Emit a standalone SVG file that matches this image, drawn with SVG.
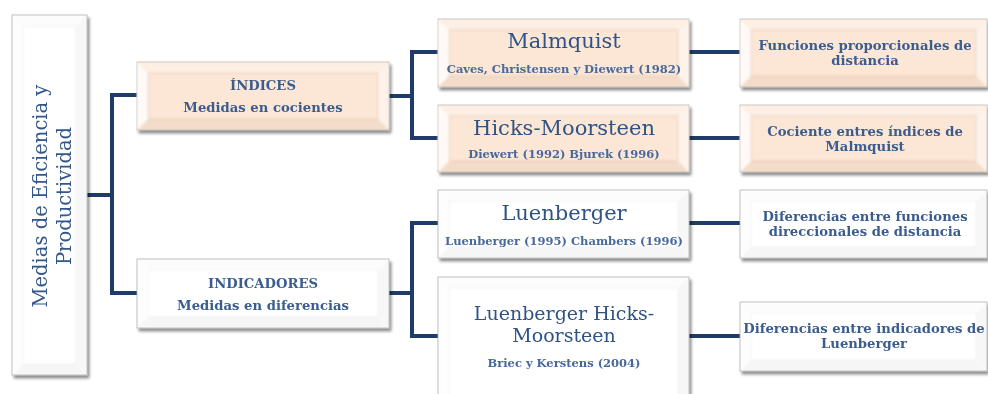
<svg xmlns="http://www.w3.org/2000/svg" width="988" height="394" viewBox="0 0 988 394">
  <defs>
    <style>
      .box { stroke: #b3b3b3; stroke-width: 0.8; filter: url(#drop); }
      .pe { fill: #FCE6D5; }
      .wh { fill: #ffffff; }
      .bevel { filter: url(#soft); }
      /* bevel faces, peach boxes */
      .pl { fill: #ffffff; opacity: 0.8; }
      .pt { fill: #ffffff; opacity: 0.35; }
      .pr { fill: #ffffff; opacity: 0.5; }
      .pb { fill: #b8906c; opacity: 0.12; }
      .pk { fill: none; stroke: #caa284; stroke-width: 1.2; opacity: 0.25; }
      /* bevel faces, white boxes */
      .wl { fill: #000000; opacity: 0.008; }
      .wt { fill: #000000; opacity: 0.012; }
      .wr { fill: #000000; opacity: 0.03; }
      .wb { fill: #000000; opacity: 0.035; }
      .wk { fill: none; stroke: #000000; stroke-width: 1.2; opacity: 0.045; }
      .link { fill: none; stroke: #1F3C68; stroke-width: 4; stroke-linejoin: miter; }
      text { font-family: "DejaVu Serif", "Liberation Serif", serif; text-anchor: middle; }
      .t1 { font-size: 21px; fill: #2F5385; }
      .t2 { font-size: 13.2px; font-weight: bold; fill: #3A5C8E; }
      .t3 { font-size: 11.5px; font-weight: bold; fill: #48699B; }
      .root { font-size: 19.5px; fill: #34578A; }
    </style>
    <filter id="drop" x="-10%" y="-10%" width="125%" height="130%">
      <feGaussianBlur in="SourceAlpha" stdDeviation="1.6"/>
      <feOffset dx="1.5" dy="2.5" result="b"/>
      <feComponentTransfer><feFuncA type="linear" slope="0.45"/></feComponentTransfer>
      <feMerge><feMergeNode/><feMergeNode in="SourceGraphic"/></feMerge>
    </filter>
    <filter id="soft" x="-5%" y="-5%" width="110%" height="110%">
      <feGaussianBlur stdDeviation="1.3"/>
    </filter>

    <!-- bevel overlays: standard 250x68 box -->
    <symbol id="bevPeach" viewBox="0 0 250 68" preserveAspectRatio="none">
      <polygon class="pl" points="0,0 11,11 11,57 0,68"/>
      <polygon class="pt" points="0,0 250,0 239,11 11,11"/>
      <polygon class="pr" points="250,0 250,68 239,57 239,11"/>
      <polygon class="pb" points="0,68 11,57 239,57 250,68"/>
      <rect class="pk" x="11" y="11" width="228" height="46"/>
    </symbol>
    <symbol id="bevWhite" viewBox="0 0 250 68" preserveAspectRatio="none">
      <polygon class="wl" points="0,0 11,11 11,57 0,68"/>
      <polygon class="wt" points="0,0 250,0 239,11 11,11"/>
      <polygon class="wr" points="250,0 250,68 239,57 239,11"/>
      <polygon class="wb" points="0,68 11,57 239,57 250,68"/>
      <rect class="wk" x="11" y="11" width="228" height="46"/>
    </symbol>
    <!-- tall white box 251x130 -->
    <symbol id="bevWhiteTall" viewBox="0 0 251 130" preserveAspectRatio="none">
      <polygon class="wl" points="0,0 11,11 11,119 0,130"/>
      <polygon class="wt" points="0,0 251,0 240,11 11,11"/>
      <polygon class="wr" points="251,0 251,130 240,119 240,11"/>
      <polygon class="wb" points="0,130 11,119 240,119 251,130"/>
      <rect class="wk" x="11" y="11" width="229" height="108"/>
    </symbol>
    <!-- upright root box 75x360 -->
    <symbol id="bevRoot" viewBox="0 0 75 360" preserveAspectRatio="none">
      <polygon class="wl" points="0,0 11,11 11,349 0,360"/>
      <polygon class="wt" points="0,0 75,0 64,11 11,11"/>
      <polygon class="wr" points="75,0 75,360 64,349 64,11"/>
      <polygon class="wb" points="0,360 11,349 64,349 75,360"/>
      <rect class="wk" x="11" y="11" width="53" height="338"/>
    </symbol>
  </defs>

  <!-- connectors -->
  <g id="connectors">
    <path class="link" d="M87 195 H112"/>
    <path class="link" d="M137 95 H112 V293 H137"/>
    <path class="link" d="M389 96 H412"/>
    <path class="link" d="M438 52 H412 V138 H438"/>
    <path class="link" d="M689 52 H740"/>
    <path class="link" d="M689 138 H740"/>
    <path class="link" d="M389 293 H412"/>
    <path class="link" d="M438 223 H412 V336 H438"/>
    <path class="link" d="M689 223 H740"/>
    <path class="link" d="M689 336 H740"/>
  </g>

  <!-- root -->
  <g id="root">
    <rect class="box wh" x="12" y="15" width="75" height="360"/>
    <use class="bevel" href="#bevRoot" x="12" y="15" width="75" height="360"/>
    <text class="root" transform="translate(47,196) rotate(-90)">Medias de Eficiencia y</text>
    <text class="root" transform="translate(71,196) rotate(-90)">Productividad</text>
  </g>

  <!-- level 1 -->
  <g id="indices">
    <rect class="box pe" x="137" y="62" width="252" height="68"/>
    <use class="bevel" href="#bevPeach" x="137" y="62" width="252" height="68"/>
    <text class="t2" x="263" y="90">ÍNDICES</text>
    <text class="t2" x="263" y="112">Medidas en cocientes</text>
  </g>
  <g id="indicadores">
    <rect class="box wh" x="137" y="259" width="252" height="69"/>
    <use class="bevel" href="#bevWhite" x="137" y="259" width="252" height="69"/>
    <text class="t2" x="263" y="288">INDICADORES</text>
    <text class="t2" x="263" y="310">Medidas en diferencias</text>
  </g>

  <!-- level 2 -->
  <g id="malmquist">
    <rect class="box pe" x="438" y="19" width="251" height="68"/>
    <use class="bevel" href="#bevPeach" x="438" y="19" width="251" height="68"/>
    <text class="t1" x="564" y="48">Malmquist</text>
    <text class="t3" x="564" y="73">Caves, Christensen y Diewert (1982)</text>
  </g>
  <g id="hicks-moorsteen">
    <rect class="box pe" x="438" y="105" width="251" height="67"/>
    <use class="bevel" href="#bevPeach" x="438" y="105" width="251" height="67"/>
    <text class="t1" x="564" y="135">Hicks-Moorsteen</text>
    <text class="t3" x="564" y="158">Diewert (1992) Bjurek (1996)</text>
  </g>
  <g id="luenberger">
    <rect class="box wh" x="438" y="190" width="251" height="68"/>
    <use class="bevel" href="#bevWhite" x="438" y="190" width="251" height="68"/>
    <text class="t1" x="564" y="220">Luenberger</text>
    <text class="t3" x="564" y="245">Luenberger (1995) Chambers (1996)</text>
  </g>
  <g id="luenberger-hicks-moorsteen">
    <rect class="box wh" x="438" y="277" width="251" height="130"/>
    <use class="bevel" href="#bevWhiteTall" x="438" y="277" width="251" height="130"/>
    <text class="t1" x="564" y="320" style="font-size:19px">Luenberger Hicks-</text>
    <text class="t1" x="564" y="342" style="font-size:19px">Moorsteen</text>
    <text class="t3" x="564" y="367">Briec y Kerstens (2004)</text>
  </g>

  <!-- level 3 -->
  <g id="funciones-proporcionales">
    <rect class="box pe" x="740" y="19" width="247" height="68"/>
    <use class="bevel" href="#bevPeach" x="740" y="19" width="247" height="68"/>
    <text class="t2" x="865" y="50">Funciones proporcionales de</text>
    <text class="t2" x="865" y="65">distancia</text>
  </g>
  <g id="cociente-indices">
    <rect class="box pe" x="740" y="105" width="247" height="67"/>
    <use class="bevel" href="#bevPeach" x="740" y="105" width="247" height="67"/>
    <text class="t2" x="865" y="136">Cociente entres índices de</text>
    <text class="t2" x="865" y="151">Malmquist</text>
  </g>
  <g id="diferencias-funciones">
    <rect class="box wh" x="740" y="190" width="247" height="68"/>
    <use class="bevel" href="#bevWhite" x="740" y="190" width="247" height="68"/>
    <text class="t2" x="865" y="221">Diferencias entre funciones</text>
    <text class="t2" x="865" y="236">direccionales de distancia</text>
  </g>
  <g id="diferencias-indicadores">
    <rect class="box wh" x="740" y="302" width="247" height="69"/>
    <use class="bevel" href="#bevWhite" x="740" y="302" width="247" height="69"/>
    <text class="t2" x="864" y="333">Diferencias entre indicadores de</text>
    <text class="t2" x="864" y="348">Luenberger</text>
  </g>
</svg>
